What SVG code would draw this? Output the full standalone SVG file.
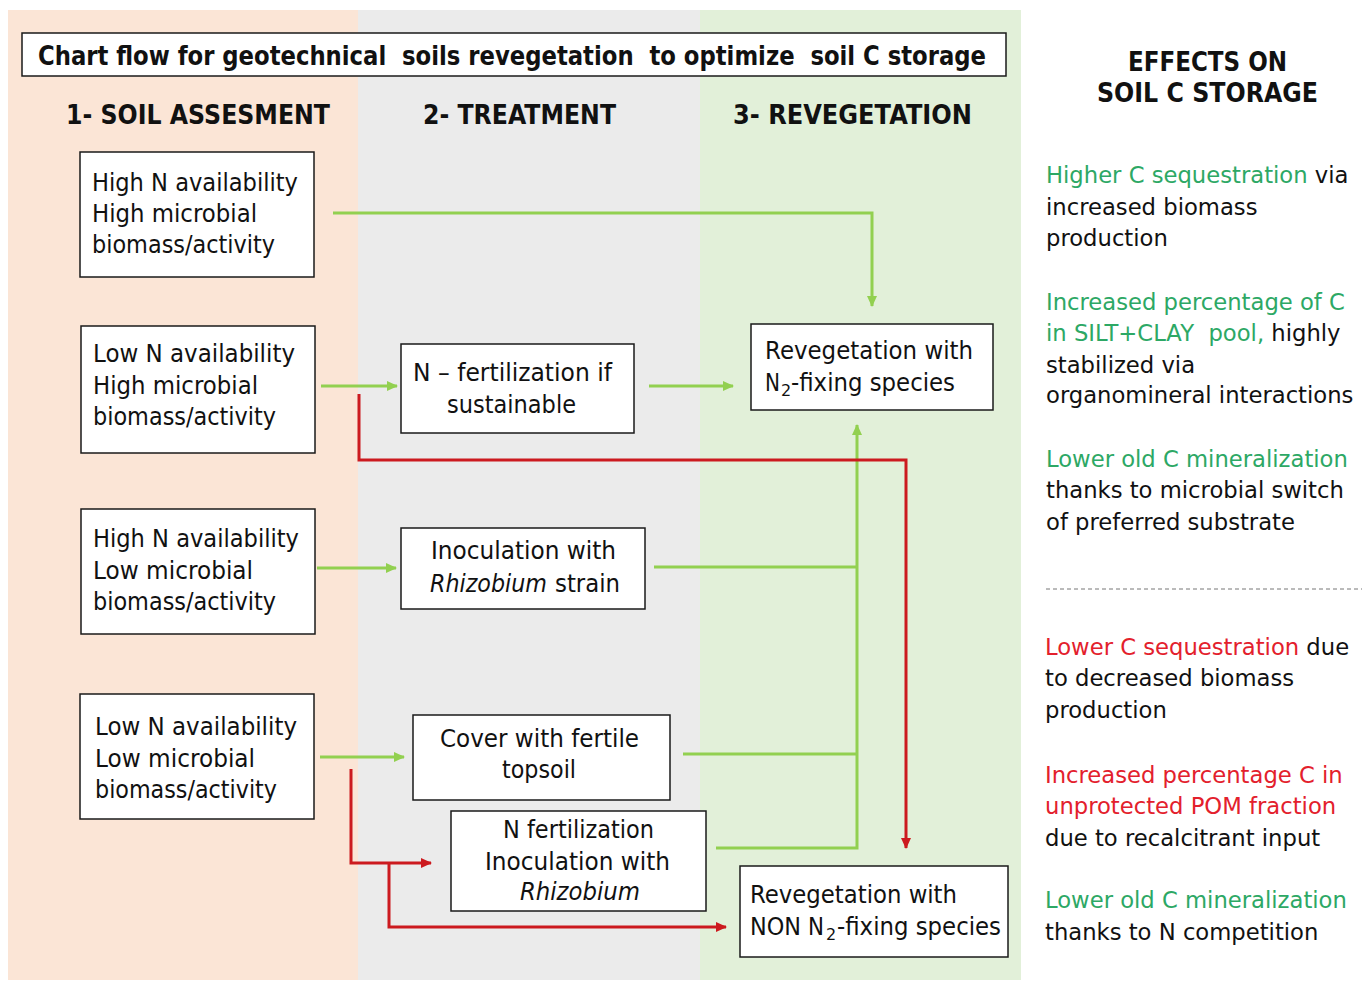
<svg xmlns="http://www.w3.org/2000/svg" width="1362" height="981" viewBox="0 0 1362 981">
<defs>
<style>
.box{fill:#ffffff;stroke:#1a1a1a;stroke-width:1.5}
.t{font-family:"DejaVu Sans","Liberation Sans",sans-serif;font-size:25px;fill:#111}
.h{font-family:"DejaVu Sans","Liberation Sans",sans-serif;font-size:26px;font-weight:bold;fill:#111}
.r{font-family:"DejaVu Sans","Liberation Sans",sans-serif;font-size:22.7px;fill:#111}
.g{fill:#2da865}
.rd{fill:#e3202c}
.sub{font-family:"DejaVu Sans","Liberation Sans",sans-serif;font-size:16px;fill:#111}
.gl{fill:none;stroke:#92d050;stroke-width:3}
.rl{fill:none;stroke:#cc1a1f;stroke-width:3}
</style>
<marker id="ag" markerUnits="userSpaceOnUse" markerWidth="12" markerHeight="10" refX="10" refY="5" orient="auto">
<path d="M0,0 L11,5 L0,10 z" fill="#92d050"/>
</marker>
<marker id="ar" markerUnits="userSpaceOnUse" markerWidth="12" markerHeight="10" refX="10" refY="5" orient="auto">
<path d="M0,0 L11,5 L0,10 z" fill="#cc1a1f"/>
</marker>
</defs>
<rect width="1362" height="981" fill="#ffffff"/>
<g id="panels">
<rect x="8" y="10" width="350" height="970" fill="#fbe5d6"/>
<rect x="358" y="10" width="342" height="970" fill="#ebebeb"/>
<rect x="700" y="10" width="321" height="970" fill="#e2f0d9"/>
</g>
<g id="title">
<rect x="22" y="33" width="984" height="43" class="box"/>
<text class="h" x="38" y="65" font-size="25" textLength="948" lengthAdjust="spacingAndGlyphs">Chart flow for geotechnical&#160; soils revegetation&#160; to optimize&#160; soil C storage</text>
</g>
<g id="headers">
<text class="h" x="66" y="124" textLength="264" lengthAdjust="spacingAndGlyphs">1- SOIL ASSESMENT</text>
<text class="h" x="423" y="124" textLength="193" lengthAdjust="spacingAndGlyphs">2- TREATMENT</text>
<text class="h" x="733" y="124" textLength="239" lengthAdjust="spacingAndGlyphs">3- REVEGETATION</text>
<text class="h" x="1128" y="71" textLength="159" lengthAdjust="spacingAndGlyphs">EFFECTS ON</text>
<text class="h" x="1097" y="102" textLength="221" lengthAdjust="spacingAndGlyphs">SOIL C STORAGE</text>
</g>
<g id="connectors">
<path class="gl" d="M333,213 H872 V306" marker-end="url(#ag)"/>
<path class="gl" d="M321,386 H397" marker-end="url(#ag)"/>
<path class="gl" d="M649,386 H733" marker-end="url(#ag)"/>
<path class="gl" d="M317,568 H396" marker-end="url(#ag)"/>
<path class="gl" d="M320,757 H404" marker-end="url(#ag)"/>
<path class="gl" d="M654,567 H857"/>
<path class="gl" d="M683,754 H857"/>
<path class="gl" d="M716,848 H857 V425" marker-end="url(#ag)"/>
<path class="rl" d="M359,394 V460 H906 V848" marker-end="url(#ar)"/>
<path class="rl" d="M351,769 V863 H431" marker-end="url(#ar)"/>
<path class="rl" d="M389,863 V927 H726" marker-end="url(#ar)"/>
</g>
<g id="a1">
<rect x="80" y="152" width="234" height="125" class="box"/>
<text class="t" x="92" y="191" textLength="206" lengthAdjust="spacingAndGlyphs">High N availability</text>
<text class="t" x="92" y="222" textLength="165" lengthAdjust="spacingAndGlyphs">High microbial</text>
<text class="t" x="92" y="253" textLength="183" lengthAdjust="spacingAndGlyphs">biomass/activity</text>
</g>
<g id="a2">
<rect x="81" y="326" width="234" height="127" class="box"/>
<text class="t" x="93" y="362" textLength="202" lengthAdjust="spacingAndGlyphs">Low N availability</text>
<text class="t" x="93" y="394" textLength="165" lengthAdjust="spacingAndGlyphs">High microbial</text>
<text class="t" x="93" y="425" textLength="183" lengthAdjust="spacingAndGlyphs">biomass/activity</text>
</g>
<g id="a3">
<rect x="81" y="509" width="234" height="125" class="box"/>
<text class="t" x="93" y="547" textLength="206" lengthAdjust="spacingAndGlyphs">High N availability</text>
<text class="t" x="93" y="579" textLength="160" lengthAdjust="spacingAndGlyphs">Low microbial</text>
<text class="t" x="93" y="610" textLength="183" lengthAdjust="spacingAndGlyphs">biomass/activity</text>
</g>
<g id="a4">
<rect x="80" y="694" width="234" height="125" class="box"/>
<text class="t" x="95" y="735" textLength="202" lengthAdjust="spacingAndGlyphs">Low N availability</text>
<text class="t" x="95" y="767" textLength="160" lengthAdjust="spacingAndGlyphs">Low microbial</text>
<text class="t" x="95" y="798" textLength="182" lengthAdjust="spacingAndGlyphs">biomass/activity</text>
</g>
<g id="t1">
<rect x="401" y="344" width="233" height="89" class="box"/>
<text class="t" x="413" y="381" textLength="199" lengthAdjust="spacingAndGlyphs">N – fertilization if</text>
<text class="t" x="447" y="413" textLength="129" lengthAdjust="spacingAndGlyphs">sustainable</text>
</g>
<g id="t2">
<rect x="401" y="528" width="244" height="81" class="box"/>
<text class="t" x="431" y="559" textLength="185" lengthAdjust="spacingAndGlyphs">Inoculation with</text>
<text class="t" x="430" y="592" font-style="italic" textLength="117" lengthAdjust="spacingAndGlyphs">Rhizobium</text>
<text class="t" x="555" y="592" textLength="65" lengthAdjust="spacingAndGlyphs">strain</text>
</g>
<g id="t3">
<rect x="413" y="715" width="257" height="85" class="box"/>
<text class="t" x="440" y="747" textLength="199" lengthAdjust="spacingAndGlyphs">Cover with fertile</text>
<text class="t" x="502" y="778" textLength="74" lengthAdjust="spacingAndGlyphs">topsoil</text>
</g>
<g id="t4">
<rect x="451" y="811" width="255" height="100" class="box"/>
<text class="t" x="503" y="838" textLength="151" lengthAdjust="spacingAndGlyphs">N fertilization</text>
<text class="t" x="485" y="870" textLength="185" lengthAdjust="spacingAndGlyphs">Inoculation with</text>
<text class="t" x="520" y="900" font-style="italic" textLength="120" lengthAdjust="spacingAndGlyphs">Rhizobium</text>
</g>
<g id="r1">
<rect x="751" y="324" width="242" height="86" class="box"/>
<text class="t" x="765" y="359" textLength="208" lengthAdjust="spacingAndGlyphs">Revegetation with</text>
<text class="t" x="765" y="391" textLength="15" lengthAdjust="spacingAndGlyphs">N</text>
<text class="sub" x="781" y="396">2</text>
<text class="t" x="791" y="391" textLength="164" lengthAdjust="spacingAndGlyphs">-fixing species</text>
</g>
<g id="r2">
<rect x="740" y="866" width="268" height="91" class="box"/>
<text class="t" x="750" y="903" textLength="207" lengthAdjust="spacingAndGlyphs">Revegetation with</text>
<text class="t" x="750" y="935" textLength="51" lengthAdjust="spacingAndGlyphs">NON</text>
<text class="t" x="808" y="935" textLength="16" lengthAdjust="spacingAndGlyphs">N</text>
<text class="sub" x="826" y="940">2</text>
<text class="t" x="837" y="935" textLength="164" lengthAdjust="spacingAndGlyphs">-fixing species</text>
</g>
<g id="effects">
<text class="r" x="1046" y="183"><tspan class="g">Higher C sequestration</tspan> via</text>
<text class="r" x="1046" y="215">increased biomass</text>
<text class="r" x="1046" y="246">production</text>
<text class="r g" x="1046" y="310">Increased percentage of C</text>
<text class="r" x="1046" y="341"><tspan class="g">in SILT+CLAY&#160; pool,</tspan> highly</text>
<text class="r" x="1046" y="373">stabilized via</text>
<text class="r" x="1046" y="403">organomineral interactions</text>
<text class="r g" x="1046" y="467">Lower old C mineralization</text>
<text class="r" x="1046" y="498">thanks to microbial switch</text>
<text class="r" x="1046" y="530">of preferred substrate</text>
<line x1="1046" y1="589" x2="1362" y2="589" stroke="#777" stroke-width="1" stroke-dasharray="4,3"/>
<text class="r" x="1045" y="655"><tspan class="rd">Lower C sequestration</tspan> due</text>
<text class="r" x="1045" y="686">to decreased biomass</text>
<text class="r" x="1045" y="718">production</text>
<text class="r rd" x="1045" y="783">Increased percentage C in</text>
<text class="r rd" x="1045" y="814">unprotected POM fraction</text>
<text class="r" x="1045" y="846">due to recalcitrant input</text>
<text class="r g" x="1045" y="908">Lower old C mineralization</text>
<text class="r" x="1045" y="940">thanks to N competition</text>
</g>
</svg>
